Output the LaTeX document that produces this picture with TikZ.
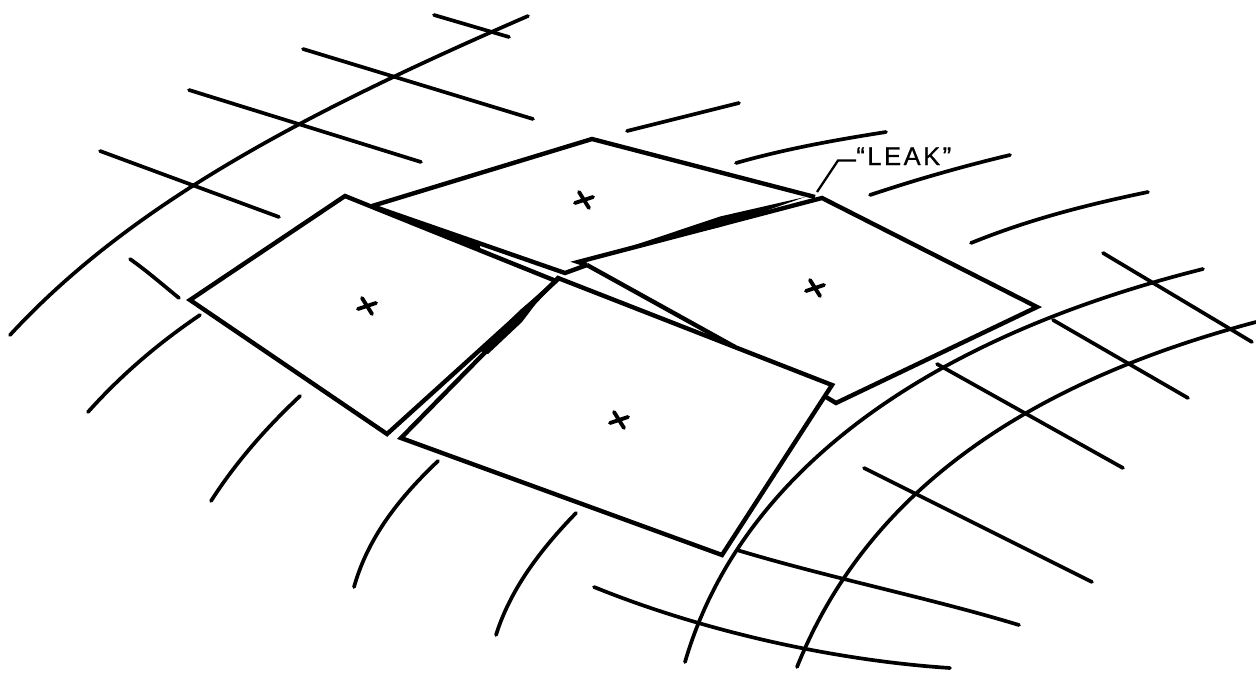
\documentclass[tikz,border=0pt]{standalone}
\usepackage{fontspec}
\setsansfont{Liberation Sans}
\begin{document}
\begin{tikzpicture}[
    x=0.02cm, y=-0.02cm,
    every node/.style={font=\sffamily\fontsize{14.5}{16}\selectfont},
    grid/.style={line width=2.1pt, line cap=round},
    panel/.style={line width=2.5pt, line join=miter},
    leak/.style={fill=black, draw=none},
    mark cross/.style={line width=2.2pt, line cap=round},
    leader/.style={line width=1.3pt}
  ]
    \useasboundingbox (0,0) rectangle (1256,673);

    % curved surface, upper left
    \draw[grid] (10,335) .. controls (130,205) and (300,115) .. (528,16);
    \draw[grid] (434,15) -- (509,37);
    \draw[grid] (303,49) -- (533,119);
    \draw[grid] (189,90) -- (421,162);
    \draw[grid] (100,151) -- (279,217);

    % behind the panels, upper right
    \draw[grid] (627,131) -- (739,103);
    \draw[grid] (736,163) .. controls (785,149) and (835,140) .. (886,132);
    \draw[grid] (870,195) .. controls (915,180) and (960,167) .. (1010,155);
    \draw[grid] (971,243) .. controls (1030,219) and (1090,204) .. (1148,192);

    % lower left
    \draw[grid] (130,259) .. controls (147,271) and (163,285) .. (179,298);
    \draw[grid] (88,412) .. controls (122,374) and (160,342) .. (200,315);
    \draw[grid] (211,501) .. controls (236,462) and (266,428) .. (300,396);
    \draw[grid] (354,587) .. controls (368,537) and (400,497) .. (438,461);
    \draw[grid] (496,635) .. controls (510,590) and (540,550) .. (576,513);

    % lower right
    \draw[grid] (685,662) .. controls (735,490) and (900,345) .. (1203,269);
    \draw[grid] (797,667) .. controls (860,510) and (1000,390) .. (1256,322);
    \draw[grid] (1103,253) -- (1252,342);
    \draw[grid] (1053,320) -- (1188,398);
    \draw[grid] (937,364) -- (1123,468);
    \draw[grid] (864,468) -- (1092,582);
    \draw[grid] (737,550) .. controls (830,578) and (930,598) .. (1019,625);
    \draw[grid] (594,587) .. controls (700,630) and (830,660) .. (950,668);

    % panels
    \draw[panel] (372,206) -- (592,139) -- (815,197);
    \draw[panel] (372,206) -- (565,273) -- (587,265);
    \draw[panel] (587,265) -- (578,262) -- (822,198) -- (1037,307) -- (836,403) -- (826,397);
    \draw[panel] (587,265) -- (735,347);
    \draw[panel] (556,281) -- (345,196) -- (190,300) -- (387,434) -- cycle;
    \draw[panel] (558,278) -- (832,385) -- (722,555) -- (401,438) -- cycle;

    % where the edges close up
    \fill[leak] (620,250) -- (720,216.5) -- (805,197) -- (720,227) -- cycle;
    \fill[leak] (480,351) -- (520,310) -- (550,285) -- (522,322) -- (488,354) -- cycle;
    \fill[leak] (372,206) -- (480,244) -- (480,250) -- cycle;

    % centres
    \foreach \cx/\cy in {584/200, 815/288, 367/306, 619/420} {
      \draw[mark cross] (\cx-9,\cy+3) -- (\cx+9,\cy-3);
      \draw[mark cross] (\cx-5,\cy-8) -- (\cx+5,\cy+8);
    }

    % label
    \node[inner sep=0pt, anchor=base west] (leaklabel) at (856,165)
      {\addfontfeature{LetterSpace=10,FakeBold=0.8}“LEAK”};
    \coordinate (leaktip) at (817,192);
    \coordinate (leakbend) at (838,160.5);
    \draw[leader] (leaktip) -- (leakbend) -- (leaklabel.west |- leakbend);
  \end{tikzpicture}
\end{document}
